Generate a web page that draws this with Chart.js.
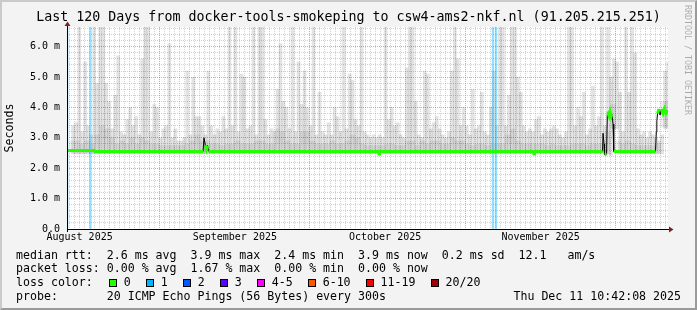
<!DOCTYPE html>
<html>
<head>
<meta charset="utf-8">
<title>Last 120 Days - csw4-ams2-nkf.nl</title>
<script src="https://cdn.jsdelivr.net/npm/chart.js@4.4.1/dist/chart.umd.min.js"></script>
<style>
  html, body { margin: 0; padding: 0; background: #f3f3f3; }
  #wrap { position: relative; width: 697px; height: 310px; overflow: hidden; }
  #frame { position: absolute; left: 0; top: 0; width: 693px; height: 306px; border: 2px solid;
           border-color: #cacaca #9a9a9a #9a9a9a #cacaca; pointer-events: none; }
  .lg { position: absolute; left: 16px; font: 11.6px 'DejaVu Sans Mono', monospace; line-height: 14px;
        white-space: pre; color: #000; }
  .box { display: inline-block; width: 6px; height: 6px; border: 1px solid #000; margin-right: 7px;
         vertical-align: -1px; }
  .entry { margin-right: 15px; }
  #stamp { position: absolute; right: 16px; top: 289px; font: 11.6px 'DejaVu Sans Mono', monospace;
           line-height: 14px; white-space: pre; }
  #tag { position: absolute; left: 683px; top: 5px; writing-mode: vertical-rl; font: 8.3px 'DejaVu Sans Mono', monospace;
         line-height: 10px; color: rgba(0,0,0,0.3); white-space: pre; }
</style>
</head>
<body>
<div id="wrap">
  <canvas id="chart"></canvas>
  <div id="frame"></div>
  <div class="lg" style="top:248px">median rtt:  2.6 ms avg  3.9 ms max  2.4 ms min  3.9 ms now  0.2 ms sd  12.1   am/s</div>
  <div class="lg" style="top:261px">packet loss: 0.00 % avg  1.67 % max  0.00 % min  0.00 % now</div>
  <div class="lg" id="losslegend" style="top:275px">loss color:<span style="margin-left:16px"></span></div>
  <div class="lg" style="top:289px">probe:       20 ICMP Echo Pings (56 Bytes) every 300s</div>
  <div id="stamp">Thu Dec 11 10:42:08 2025</div>
  <div id="tag">RRDTOOL / TOBI OETIKER</div>
</div>
<script>
// time axis is in days since the start of the 120 day window (Aug 13 11:42)
const xLabelDays = [2.5125, 33.5125, 63.5125, 94.5542];
const xLabels = ["August 2025", "September 2025", "October 2025", "November 2025"];
const monthStartDays = [18.5125, 48.5125, 79.5542, 109.5542];

const yMajor = [0, 1, 2, 3, 4, 5, 6];
const yLabels = ["0.0", "1.0 m", "2.0 m", "3.0 m", "4.0 m", "5.0 m", "6.0 m"];

// smoke: 200 buckets of 0.6 day, upper and lower edge in ms
const smokeHi = [
  3.4, 3.5, 6.64, 3.2, 5.5, 3.4, 3.1, 6.64, 4.8, 6.64,
  6.64, 4.8, 4.2, 3.3, 4.4, 5.7, 3.2, 3.1, 3.6, 4.0,
  3.4, 3.7, 3.1, 5.6, 6.64, 6.64, 3.2, 4.1, 4.0, 3.0,
  3.3, 3.4, 6.1, 3.0, 3.3, 2.9, 2.9, 3.0, 5.2, 3.1,
  5.0, 3.7, 3.7, 3.4, 3.1, 5.2, 3.4, 3.1, 3.3, 3.2,
  3.7, 3.3, 6.64, 3.4, 6.64, 3.2, 5.1, 5.0, 3.3, 3.4,
  6.64, 3.1, 6.64, 6.64, 3.6, 3.1, 3.3, 3.2, 4.6, 6.1,
  4.2, 4.0, 3.3, 6.64, 3.2, 5.5, 4.1, 5.2, 4.0, 3.4,
  6.64, 3.1, 4.5, 3.2, 3.1, 3.5, 3.1, 4.0, 3.7, 3.2,
  6.64, 3.3, 5.1, 4.9, 3.6, 3.4, 6.64, 3.2, 3.1, 3.0,
  3.1, 3.0, 3.1, 3.0, 6.64, 3.6, 4.0, 3.4, 3.5, 3.1,
  3.0, 5.3, 6.64, 6.64, 4.2, 3.1, 3.0, 5.2, 5.1, 3.3,
  3.5, 3.7, 3.3, 3.1, 3.0, 3.2, 5.2, 6.64, 5.6, 3.4,
  4.0, 3.4, 3.1, 4.6, 3.3, 3.4, 4.5, 3.2, 3.1, 4.0,
  5.2, 3.4, 6.64, 6.64, 3.4, 4.4, 6.64, 6.64, 5.0, 4.5,
  3.4, 3.2, 3.3, 3.2, 3.6, 3.7, 3.1, 3.3, 3.2, 3.3,
  3.4, 3.3, 3.1, 3.0, 3.2, 6.64, 6.64, 3.4, 4.0, 3.7,
  4.5, 3.1, 3.3, 4.7, 3.4, 3.7, 6.64, 3.4, 6.64, 5.0,
  5.6, 5.5, 4.5, 3.2, 6.64, 4.5, 6.64, 5.8, 3.3, 3.1,
  3.2, 3.0, 3.2, 3.1, 3.0, 2.9, 3.1, 5.2, 5.5, 4.8
];
const smokeLo = [
  2.47, 2.47, 2.47, 2.47, 2.47, 2.47, 2.47, 2.47, 2.47, 2.47,
  2.47, 2.47, 2.47, 2.47, 2.47, 2.47, 2.47, 2.47, 2.47, 2.47,
  2.47, 2.47, 2.47, 2.47, 2.47, 2.47, 2.47, 2.47, 2.47, 2.47,
  2.47, 2.47, 2.47, 2.47, 2.47, 2.47, 2.47, 2.47, 2.47, 2.47,
  2.47, 2.47, 2.47, 2.47, 2.47, 2.47, 2.47, 2.47, 2.47, 2.47,
  2.47, 2.47, 2.47, 2.47, 2.47, 2.47, 2.47, 2.47, 2.47, 2.47,
  2.47, 2.47, 2.47, 2.47, 2.47, 2.47, 2.47, 2.47, 2.47, 2.47,
  2.47, 2.47, 2.47, 2.47, 2.47, 2.47, 2.47, 2.47, 2.47, 2.47,
  2.47, 2.47, 2.47, 2.47, 2.47, 2.47, 2.47, 2.47, 2.47, 2.47,
  2.47, 2.47, 2.47, 2.47, 2.47, 2.47, 2.47, 2.47, 2.47, 2.47,
  2.47, 2.47, 2.47, 2.47, 2.47, 2.47, 2.47, 2.47, 2.47, 2.47,
  2.47, 2.47, 2.47, 2.47, 2.47, 2.47, 2.47, 2.47, 2.47, 2.47,
  2.47, 2.47, 2.47, 2.47, 2.47, 2.47, 2.47, 2.47, 2.47, 2.47,
  2.47, 2.47, 2.47, 2.47, 2.47, 2.47, 2.47, 2.47, 2.47, 2.47,
  2.47, 2.47, 2.47, 2.47, 2.47, 2.47, 2.47, 2.47, 2.47, 2.47,
  2.47, 2.47, 2.47, 2.47, 2.47, 2.47, 2.47, 2.47, 2.47, 2.47,
  2.47, 2.47, 2.47, 2.47, 2.47, 2.47, 2.47, 2.47, 2.47, 2.47,
  2.47, 2.47, 2.47, 2.47, 2.47, 2.47, 2.47, 2.47, 2.47, 2.42,
  3.3, 3.3, 2.47, 2.47, 2.47, 2.47, 2.47, 2.47, 2.47, 2.47,
  2.47, 2.47, 2.47, 2.47, 2.47, 2.47, 2.47, 3.3, 3.3, 3.3
];

// denser smoke close to the median, one value per day
const darkHi = [
  2.9, 2.9, 2.8, 2.9, 2.8, 3.1, 3.4, 3.3, 3.0, 2.8,
  2.9, 2.8, 3.0, 2.8, 3.0, 2.9, 2.8, 2.8, 2.75, 2.75,
  2.75, 2.75, 2.75, 2.8, 2.9, 3.1, 2.9, 2.9, 2.8, 2.8,
  2.75, 2.8, 2.8, 2.9, 2.8, 2.8, 2.8, 2.9, 2.9, 2.8,
  2.8, 3.3, 3.2, 2.9, 2.8, 2.8, 3.2, 3.2, 2.9, 2.8,
  2.8, 2.8, 2.9, 2.8, 2.8, 2.9, 3.1, 3.0, 2.8, 2.75,
  2.75, 2.75, 2.75, 2.8, 2.8, 2.75, 2.75, 2.9, 2.9, 2.75,
  2.9, 2.8, 2.9, 2.9, 2.8, 2.8, 3.0, 2.9, 2.9, 2.8,
  2.75, 2.8, 2.8, 2.75, 2.8, 2.8, 2.8, 3.1, 3.3, 2.9,
  2.8, 2.8, 2.8, 2.8, 2.8, 2.75, 2.8, 2.75, 2.75, 2.75,
  2.8, 2.8, 2.8, 2.75, 2.8, 2.8, 2.8, 3.2, 4.1, 2.9,
  2.8, 2.9, 2.8, 2.75, 2.75, 2.75, 2.75, 2.8, 4.2, 4.2
];
const darkLo = [
  2.5, 2.5, 2.5, 2.5, 2.5, 2.5, 2.5, 2.5, 2.5, 2.5,
  2.5, 2.5, 2.5, 2.5, 2.5, 2.5, 2.5, 2.5, 2.5, 2.5,
  2.5, 2.5, 2.5, 2.5, 2.5, 2.5, 2.5, 2.5, 2.5, 2.5,
  2.5, 2.5, 2.5, 2.5, 2.5, 2.5, 2.5, 2.5, 2.5, 2.5,
  2.5, 2.5, 2.5, 2.5, 2.5, 2.5, 2.5, 2.5, 2.5, 2.5,
  2.5, 2.5, 2.5, 2.5, 2.5, 2.5, 2.5, 2.5, 2.5, 2.5,
  2.5, 2.5, 2.5, 2.5, 2.5, 2.5, 2.5, 2.5, 2.5, 2.5,
  2.5, 2.5, 2.5, 2.5, 2.5, 2.5, 2.5, 2.5, 2.5, 2.5,
  2.5, 2.5, 2.5, 2.5, 2.5, 2.5, 2.5, 2.5, 2.5, 2.5,
  2.5, 2.5, 2.5, 2.5, 2.5, 2.5, 2.5, 2.5, 2.5, 2.5,
  2.5, 2.5, 2.5, 2.5, 2.5, 2.5, 2.5, 2.45, 3.3, 2.5,
  2.5, 2.5, 2.5, 2.5, 2.5, 2.5, 2.5, 2.5, 3.35, 3.35
];

// median rtt (ms), points where the line changes
const medianDays = [0, 5.49, 5.6, 27.16, 27.36, 27.62, 27.82, 28.06, 28.26, 62.2, 62.3, 62.4,
  93.15, 93.25, 93.35, 106.93, 107.03, 107.23, 107.33, 107.73, 107.89, 108.03, 108.23, 108.43,
  108.63, 108.83, 109.03, 109.17, 117.51, 117.67, 117.77, 117.91, 118.21, 118.41, 118.71,
  119.01, 119.31, 119.61, 120];
const medianVals = [2.58, 2.58, 2.55, 2.55, 3.0, 2.75, 2.62, 2.75, 2.55, 2.55, 2.47, 2.55,
  2.55, 2.47, 2.55, 2.55, 3.15, 2.8, 2.45, 2.45, 3.8, 3.82, 3.72, 3.85,
  3.7, 3.78, 3.45, 2.55, 2.55, 3.2, 3.55, 3.8, 3.95, 3.75, 3.95,
  3.8, 3.95, 3.8, 3.9];

// intervals with packet loss (pings lost out of 20)
const lossDays = [0.2, 4.85, 85.2, 85.8];
const lossCount = [1, 1, 1, 1];

const lossLabels = ["0", "1", "2", "3", "4-5", "6-10", "11-19", "20/20"];
const lossColors = ["#26ff00", "#00b8ff", "#0059ff", "#5e00ff", "#ff00ff", "#ff5500", "#ff0000", "#a10000"];

const smokeX = [];
for (let i = 0; i < smokeHi.length; i++) smokeX.push(0.3 + 0.6 * i);

// midnight grid lines (DST ends on Oct 26)
const xGridDays = [];
for (let k = 0; k < 120; k++) {
  const d = 0.5125 + k + (k >= 74 ? 1 / 24 : 0);
  if (d < 120) xGridDays.push(d);
}
const yGrid = [];
for (let i = 0; i <= 33; i++) yGrid.push(Math.round(i * 2) / 10);

const near = (a, b) => Math.abs(a - b) < 0.01;
const GRID = "rgba(140,140,140,0.4)";
const MGRID = "rgba(224,79,79,0.55)";

function lossColor(n) {
  if (n <= 3) return lossColors[n];
  if (n <= 5) return lossColors[4];
  if (n <= 10) return lossColors[5];
  if (n <= 19) return lossColors[6];
  return lossColors[7];
}

// the median is green (no loss) except on the steep jumps, where only the thin line shows
const medianPts = medianDays.map((d, i) => ({ x: d, y: medianVals[i] }));
const greenPts = [];
medianPts.forEach((p, i) => {
  if (i > 0 && Math.abs(p.y - medianPts[i - 1].y) > 0.2) greenPts.push({ x: (p.x + medianPts[i - 1].x) / 2, y: null });
  greenPts.push(p);
});

// loss legend
const lossLegend = document.getElementById("losslegend");
lossLabels.forEach((lab, i) => {
  const box = document.createElement("span");
  box.className = "box";
  box.style.background = lossColors[i];
  const txt = document.createElement("span");
  txt.className = "entry";
  txt.textContent = lab;
  lossLegend.appendChild(box);
  lossLegend.appendChild(txt);
});

const plotBackground = {
  id: "plotBackground",
  beforeDraw(chart) {
    const { ctx, chartArea: a } = chart;
    ctx.save();
    ctx.fillStyle = "#fff";
    ctx.fillRect(a.left, a.top, a.right - a.left, a.bottom - a.top);
    ctx.restore();
  }
};

const axisArrows = {
  id: "axisArrows",
  afterDraw(chart) {
    const { ctx, chartArea: a } = chart;
    ctx.save();
    ctx.strokeStyle = "#000";
    ctx.lineWidth = 1;
    ctx.beginPath();
    ctx.moveTo(a.left, a.bottom + 0.5);
    ctx.lineTo(a.right + 2, a.bottom + 0.5);
    ctx.moveTo(a.left + 0.5, a.bottom + 3);
    ctx.lineTo(a.left + 0.5, a.top - 2);
    ctx.stroke();
    ctx.fillStyle = "#801f1f";
    ctx.beginPath();
    ctx.moveTo(a.right + 1, a.bottom - 2.5);
    ctx.lineTo(a.right + 5.5, a.bottom + 0.5);
    ctx.lineTo(a.right + 1, a.bottom + 3.5);
    ctx.closePath();
    ctx.fill();
    ctx.beginPath();
    ctx.moveTo(a.left - 2.5, a.top - 1);
    ctx.lineTo(a.left + 0.5, a.top - 5.5);
    ctx.lineTo(a.left + 3.5, a.top - 1);
    ctx.closePath();
    ctx.fill();
    ctx.restore();
  }
};

Chart.defaults.font.family = "'DejaVu Sans Mono', monospace";
Chart.defaults.color = "#000";

// hidden copies of the time axis, one per bar dataset, so each keeps its own bar width
const hiddenTime = { type: "linear", min: 0, max: 120, offset: false, display: false };

const ctx = document.getElementById("chart").getContext("2d");
const chart = new Chart(ctx, {
  type: "line",
  data: {
    datasets: [
      {
        label: "median",
        data: greenPts,
        borderColor: lossColors[0],
        borderWidth: 3,
        pointRadius: 0,
        spanGaps: false,
        order: 0
      },
      {
        label: "median line",
        data: medianPts,
        borderColor: "#000",
        borderWidth: 1,
        pointRadius: 0,
        segment: {
          borderColor: (c) => (Math.abs(c.p1.y - c.p0.y) > 3 ? "#000" : "rgba(0,0,0,0)")
        },
        order: 1
      },
      {
        type: "bar",
        label: "loss",
        xAxisID: "xLoss",
        data: lossDays.map((d) => ({ x: d, y: [0, 6.65] })),
        backgroundColor: lossCount.map((n) => lossColor(n) + "70"),
        barThickness: 1.6,
        order: 2
      },
      {
        type: "bar",
        label: "dense smoke",
        xAxisID: "xDark",
        data: darkHi.map((v, i) => ({ x: i + 0.5, y: [darkLo[i], v] })),
        backgroundColor: "rgba(0,0,0,0.065)",
        barThickness: 5.1,
        order: 3
      },
      {
        type: "bar",
        label: "smoke",
        xAxisID: "xSmoke",
        data: smokeHi.map((v, i) => ({ x: smokeX[i], y: [smokeLo[i], v] })),
        backgroundColor: "rgba(0,0,0,0.11)",
        barThickness: 3.1,
        order: 4
      }
    ]
  },
  options: {
    responsive: true,
    maintainAspectRatio: false,
    devicePixelRatio: 1,
    animation: false,
    events: [],
    layout: { padding: 0 },
    plugins: {
      legend: { display: false },
      tooltip: { enabled: false },
      title: {
        display: true,
        text: "Last 120 Days from docker-tools-smokeping to csw4-ams2-nkf.nl (91.205.215.251)",
        color: "#000",
        font: { size: 13.3, weight: "normal" },
        padding: { top: 10, bottom: 1 }
      }
    },
    scales: {
      x: {
        type: "linear",
        min: 0,
        max: 120,
        offset: false,
        afterBuildTicks: (s) => { s.ticks = xGridDays.map((v) => ({ value: v })); },
        afterFit: (s) => { s.height = 81; },
        ticks: {
          autoSkip: false,
          maxRotation: 0,
          padding: 2,
          font: { size: 10 },
          color: "#000",
          callback: (v) => {
            const j = xLabelDays.findIndex((d) => near(d, v));
            return j >= 0 ? xLabels[j] : "";
          }
        },
        grid: {
          offset: false,
          drawTicks: false,
          color: (c) => (c.tick && monthStartDays.some((d) => near(d, c.tick.value)) ? MGRID : GRID)
        },
        border: { display: false, dash: (c) => (c.tick ? [1, 1] : []) }
      },
      xLoss: hiddenTime,
      xDark: hiddenTime,
      xSmoke: hiddenTime,
      y: {
        type: "linear",
        min: 0,
        max: 6.65,
        afterBuildTicks: (s) => { s.ticks = yGrid.map((v) => ({ value: v })); },
        afterFit: (s) => { s.width = 67; },
        ticks: {
          autoSkip: false,
          padding: 7,
          font: { size: 10 },
          color: "#000",
          callback: (v) => {
            const j = yMajor.findIndex((m) => Math.abs(m - v) < 1e-6);
            return j >= 0 ? yLabels[j] : "";
          }
        },
        grid: {
          drawTicks: false,
          color: (c) => (c.tick && Math.abs(c.tick.value - Math.round(c.tick.value)) < 1e-6 ? MGRID : GRID)
        },
        border: { display: false, dash: (c) => (c.tick ? [1, 1] : []) },
        title: {
          display: true,
          text: "Seconds",
          color: "#000",
          font: { size: 11.6 },
          padding: { top: 3, bottom: 0 }
        }
      },
      yr: {
        type: "linear",
        position: "right",
        ticks: { display: false },
        grid: { display: false, drawTicks: false },
        border: { display: false },
        afterFit: (s) => { s.width = 29; }
      }
    }
  },
  plugins: [plotBackground, axisArrows]
});
</script>
</body>
</html>
